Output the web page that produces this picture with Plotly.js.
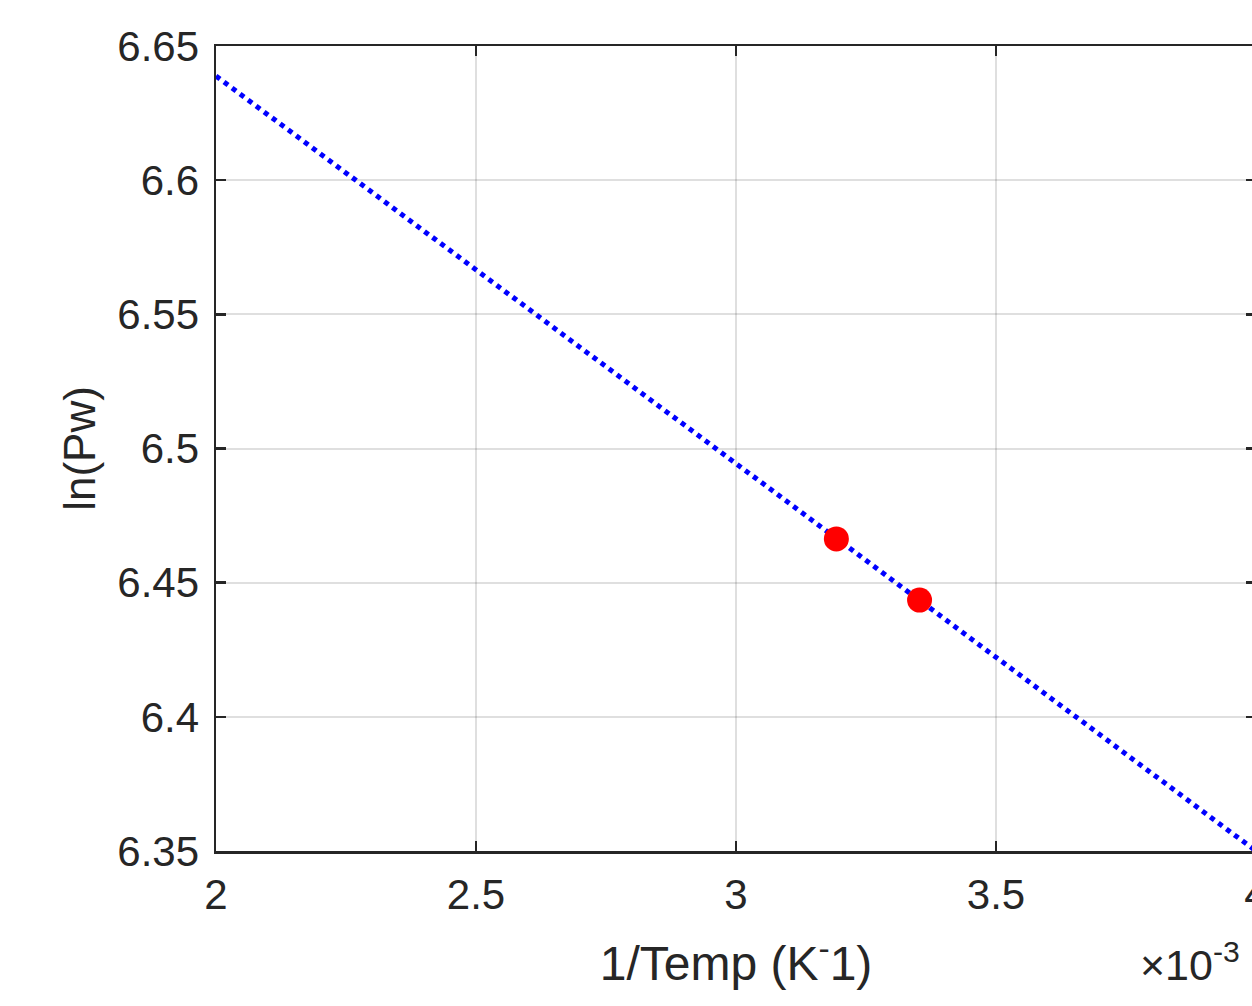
<!DOCTYPE html>
<html>
<head>
<meta charset="utf-8">
<script src="https://cdn.plot.ly/plotly-3.0.1.min.js"></script>
<style>
html, body { margin: 0; padding: 0; overflow: hidden; background: #fff; }
#chart { width: 1300px; height: 1006px; }
</style>
</head>
<body>
<div id="chart"></div>
<script>
// Fitted line (1/T in K^-1, ln(Pw))
const fitX = [0.002, 0.004];
const fitY = [6.6388, 6.3500];
// Measured points
const ptsX = [0.003193, 0.003353];
const ptsY = [6.4663, 6.4435];
// Tick labels
const xTickVals = [0.002, 0.0025, 0.003, 0.0035, 0.004];
const xTickText = ['2', '2.5', '3', '3.5', '4'];
const yTickVals = [6.35, 6.4, 6.45, 6.5, 6.55, 6.6, 6.65];
const yTickText = ['6.35', '6.4', '6.45', '6.5', '6.55', '6.6', '6.65'];

const FONT = '"Liberation Sans", Arial, Helvetica, sans-serif';
const AX = '#262626';

const traces = [
  {
    x: fitX, y: fitY, type: 'scatter', mode: 'lines',
    line: { color: '#0000ff', width: 5, dash: '5px,5px' },
    hoverinfo: 'skip', showlegend: false, cliponaxis: true
  },
  {
    x: ptsX, y: ptsY, type: 'scatter', mode: 'markers',
    marker: { color: '#ff0000', size: 25, line: { width: 0 } },
    showlegend: false
  }
];

const axisCommon = {
  showline: true, linecolor: AX, linewidth: 2.5, mirror: 'allticks',
  ticks: 'inside', ticklen: 10, tickwidth: 2.5, tickcolor: AX,
  showgrid: true, gridcolor: 'rgba(38,38,38,0.15)', gridwidth: 2,
  zeroline: false,
  tickfont: { family: FONT, size: 42, color: AX }
};

const layout = {
  width: 1300, height: 1006,
  margin: { l: 216, r: 44, t: 46, b: 155 },
  paper_bgcolor: '#ffffff', plot_bgcolor: '#ffffff',
  font: { family: FONT, color: AX },
  xaxis: Object.assign({}, axisCommon, {
    range: [0.002, 0.004], tickmode: 'array',
    tickvals: xTickVals, ticktext: xTickText,
    ticklabelstandoff: 5,
    title: { text: '1/Temp (K<sup>-</sup>1)', font: { family: FONT, size: 48, color: AX }, standoff: 30 }
  }),
  yaxis: Object.assign({}, axisCommon, {
    range: [6.35, 6.65], tickmode: 'array',
    tickvals: yTickVals, ticktext: yTickText,
    ticklabelstandoff: 6,
    title: { text: 'ln(Pw)', font: { family: FONT, size: 44, color: AX }, standoff: 8 }
  }),
  annotations: [
    {
      xref: 'paper', yref: 'paper', x: 0.887, y: -0.138,
      xanchor: 'left', yanchor: 'middle', showarrow: false,
      text: '×10<sup style="font-size:38px">-3</sup>',
      font: { family: FONT, size: 43, color: AX }
    }
  ]
};

Plotly.newPlot('chart', traces, layout, { displayModeBar: false, staticPlot: true });
</script>
</body>
</html>
